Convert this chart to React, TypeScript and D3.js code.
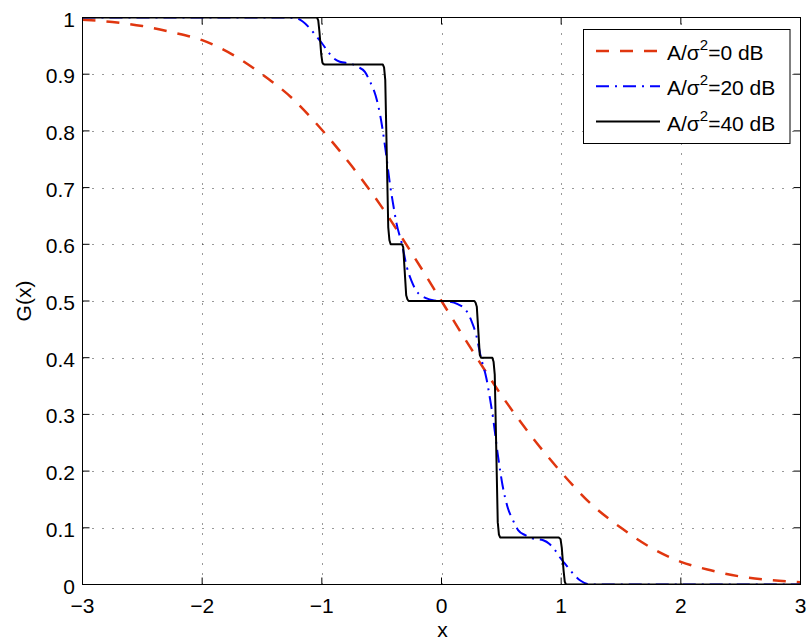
import React from "react";
import * as d3 from "d3";

const X_TICKS = [-3, -2, -1, 0, 1, 2, 3];
const X_TICK_LABELS = ["\u22123", "\u22122", "\u22121", "0", "1", "2", "3"];
const Y_TICKS = [0, 0.1, 0.2, 0.3, 0.4, 0.5, 0.6, 0.7, 0.8, 0.9, 1];
const Y_TICK_LABELS = ["0", "0.1", "0.2", "0.3", "0.4", "0.5", "0.6", "0.7", "0.8", "0.9", "1"];

// A/sigma^2 = 0 dB
const X_RED = [-3, -2.75, -2.5, -2.25, -2, -1.75, -1.5, -1.25, -1, -0.75, -0.5, -0.25, 0,
  0.25, 0.5, 0.75, 1, 1.25, 1.5, 1.75, 2, 2.25, 2.5, 2.75, 3];
const G_RED = [0.996, 0.992, 0.985, 0.974, 0.96, 0.935, 0.9, 0.858, 0.802, 0.738, 0.666, 0.585, 0.5,
  0.415, 0.334, 0.262, 0.198, 0.142, 0.1, 0.065, 0.04, 0.025, 0.014, 0.008, 0.004];

// A/sigma^2 = 20 dB
const X_BLUE = [-3, -1.3, -1.22, -1.16, -1.1, -1.05, -1.0, -0.95, -0.9, -0.85, -0.75, -0.7, -0.64, -0.6,
  -0.55, -0.51, -0.47, -0.43, -0.405, -0.376, -0.33, -0.29, -0.25, -0.21, -0.13, -0.06, 0,
  0.06, 0.13, 0.21, 0.25, 0.29, 0.33, 0.376, 0.405, 0.43, 0.47, 0.51, 0.55, 0.6, 0.64, 0.7,
  0.75, 0.85, 0.9, 0.95, 1.0, 1.05, 1.1, 1.16, 1.22, 1.3, 3];
const G_BLUE = [1, 1, 0.999, 0.993, 0.981, 0.968, 0.955, 0.94, 0.928, 0.922, 0.918, 0.913, 0.904, 0.888,
  0.862, 0.825, 0.77, 0.705, 0.672, 0.637, 0.6, 0.56, 0.535, 0.518, 0.505, 0.501, 0.5,
  0.499, 0.495, 0.482, 0.465, 0.44, 0.4, 0.363, 0.328, 0.295, 0.23, 0.175, 0.138, 0.112, 0.096, 0.087,
  0.082, 0.078, 0.072, 0.06, 0.045, 0.032, 0.019, 0.007, 0.001, 0, 0];

// A/sigma^2 = 40 dB
const X_BLACK = [-3, -1.04, -1.03, -1.02, -1.005, -0.995, -0.98, -0.49, -0.48, -0.47, -0.445, -0.435, -0.425,
  -0.33, -0.32, -0.295, -0.285, -0.275, 0.275, 0.285, 0.295, 0.32, 0.33, 0.425, 0.435, 0.445,
  0.47, 0.48, 0.49, 0.98, 0.995, 1.005, 1.02, 1.03, 1.04, 3];
const G_BLACK = [1, 1, 0.995, 0.975, 0.935, 0.92, 0.917, 0.917, 0.912, 0.89, 0.63, 0.607, 0.6,
  0.6, 0.595, 0.51, 0.503, 0.5, 0.5, 0.497, 0.49, 0.405, 0.4, 0.4, 0.393, 0.37,
  0.11, 0.088, 0.083, 0.083, 0.08, 0.065, 0.025, 0.005, 0, 0];

const SERIES_LABELS = ["=0 dB", "=20 dB", "=40 dB"];

const W = 807, H = 642;
const L = 82.5, R = 800.5, T = 17.5, B = 584.5;
const FONT = "'Liberation Sans', Arial, Helvetica, sans-serif";

export default function App() {
  const x = d3.scaleLinear().domain([-3, 3]).range([L, R]);
  const y = d3.scaleLinear().domain([0, 1]).range([B, T]);
  const mk = (xs: number[], gs: number[], curve: any) =>
    d3.line<number>().x((_, i) => x(xs[i])).y((_, i) => y(gs[i])).curve(curve)(xs.map((_, i) => i)) || "";

  const redPath = mk(X_RED, G_RED, d3.curveMonotoneX);
  const bluePath = mk(X_BLUE, G_BLUE, d3.curveMonotoneX);
  const blackPath = mk(X_BLACK, G_BLACK, d3.curveLinear);

  const series = [
    { color: "#e0360f", dash: "13 11", width: 2.5 },
    { color: "#0000ff", dash: "13 6 2 6", width: 2 },
    { color: "#000000", dash: "none", width: 2 },
  ];
  const lx0 = 583.5, ly0 = 29.5, lw = 206.5, lh = 114;
  const rowY = [51, 86.3, 121.6];
  const tick = 7;

  return (
    <svg width={W} height={H} style={{ position: "absolute", left: 0, top: 0, background: "#fff" }}
      fontFamily={FONT}>
      <defs>
        <clipPath id="plot">
          <rect x={L} y={T} width={R - L} height={B - T} />
        </clipPath>
      </defs>
      <rect x={0} y={0} width={W} height={H} fill="#fff" />
      {/* grid */}
      <g stroke="#333" strokeWidth={1} strokeDasharray="1 9">
        {X_TICKS.slice(1, -1).map((t) => (
          <line key={"gx" + t} x1={Math.round(x(t)) + 0.5} x2={Math.round(x(t)) + 0.5} y1={B} y2={T} />
        ))}
        {Y_TICKS.slice(1, -1).map((t) => (
          <line key={"gy" + t} x1={L} x2={R} y1={Math.round(y(t)) + 0.5} y2={Math.round(y(t)) + 0.5} />
        ))}
      </g>
      {/* ticks */}
      <g stroke="#000" strokeWidth={1}>
        {X_TICKS.map((t) => (
          <g key={"tx" + t}>
            <line x1={x(t)} x2={x(t)} y1={B} y2={B - tick} />
            <line x1={x(t)} x2={x(t)} y1={T} y2={T + tick} />
          </g>
        ))}
        {Y_TICKS.map((t) => (
          <g key={"ty" + t}>
            <line x1={L} x2={L + tick} y1={y(t)} y2={y(t)} />
            <line x1={R} x2={R - tick} y1={y(t)} y2={y(t)} />
          </g>
        ))}
      </g>
      {/* data */}
      <g clipPath="url(#plot)" fill="none">
        <path d={redPath} stroke={series[0].color} strokeWidth={series[0].width} strokeDasharray={series[0].dash} />
        <path d={bluePath} stroke={series[1].color} strokeWidth={series[1].width} strokeDasharray={series[1].dash} />
        <path d={blackPath} stroke={series[2].color} strokeWidth={series[2].width} strokeLinejoin="round" />
      </g>
      {/* box */}
      <rect x={L} y={T} width={R - L} height={B - T} fill="none" stroke="#000" strokeWidth={1} />
      {/* tick labels */}
      <g fontSize={21} fill="#000">
        {X_TICKS.map((t, i) => (
          <text key={"lx" + t} x={x(t)} y={612.5} textAnchor="middle">{X_TICK_LABELS[i]}</text>
        ))}
        {Y_TICKS.map((t, i) => (
          <text key={"ly" + t} x={75} y={y(t) + 9} textAnchor="end">{Y_TICK_LABELS[i]}</text>
        ))}
      </g>
      <text x={(L + R) / 2 + 1} y={637} textAnchor="middle" fontSize={21}>x</text>
      <text transform={`translate(31, ${(T + B) / 2}) rotate(-90)`} textAnchor="middle" fontSize={21}>G(x)</text>
      {/* legend */}
      <rect x={lx0} y={ly0} width={lw} height={lh} fill="#fff" stroke="#000" strokeWidth={1} />
      {series.map((s, i) => (
        <g key={"lg" + i}>
          <line x1={596} x2={660} y1={rowY[i]} y2={rowY[i]} stroke={s.color} strokeWidth={s.width}
            strokeDasharray={s.dash} />
          <text x={667} y={rowY[i] + 9} fontSize={21} fill="#000">
            A/σ<tspan dy={-10} fontSize={15}>2</tspan><tspan dy={10}>{SERIES_LABELS[i]}</tspan>
          </text>
        </g>
      ))}
    </svg>
  );
}
